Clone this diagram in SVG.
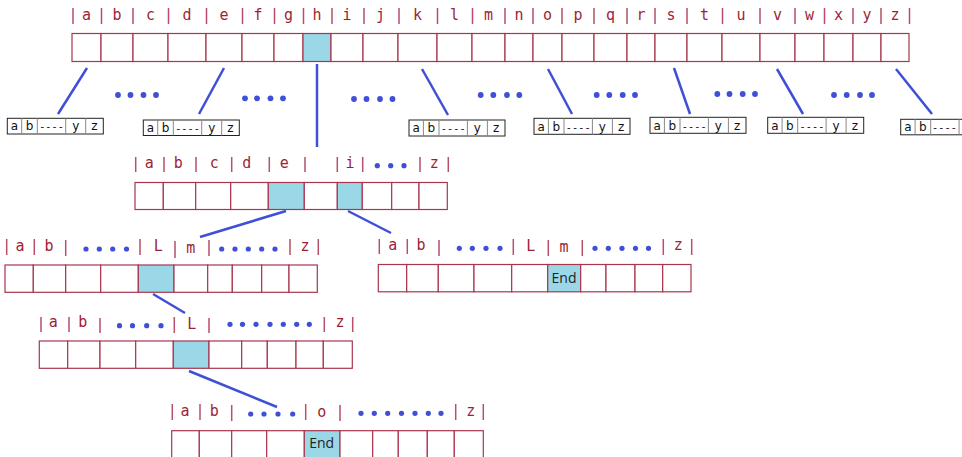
<svg xmlns="http://www.w3.org/2000/svg" width="962" height="457" viewBox="0 0 962 457">
<style>
.c{fill:#fff;stroke:#a8364e;stroke-width:1.2}
.f{fill:#9ad8e8;stroke:#a8364e;stroke-width:1.2}
.bar{stroke:#b8506a;stroke-width:1.5}
.l{font-family:"DejaVu Sans Mono","Liberation Mono",monospace;font-size:15px;fill:#9e1f36;text-anchor:middle}
.d{fill:#3f4fd6}
.cn{stroke:#3f4fd6;stroke-width:2.5;fill:none}
.so{fill:#fff;stroke:#222;stroke-width:1}
.sd{stroke:#888;stroke-width:1}
.st{font-family:"DejaVu Sans","Liberation Sans",sans-serif;font-size:12px;fill:#111;text-anchor:middle}
.dash{font-size:10px;letter-spacing:2.6px}
.end{font-family:"Open Sans","Noto Sans",sans-serif;font-size:14px;fill:#222;text-anchor:middle}
</style>
<rect width="962" height="457" fill="#fff"/>

<g id="root">
<g>
<rect class="c" x="72" y="33.5" width="29" height="28"/><rect class="c" x="101" y="33.5" width="32" height="28"/><rect class="c" x="133" y="33.5" width="35" height="28"/><rect class="c" x="168" y="33.5" width="38" height="28"/><rect class="c" x="206" y="33.5" width="36" height="28"/><rect class="c" x="242" y="33.5" width="32" height="28"/><rect class="c" x="274" y="33.5" width="29" height="28"/><rect class="f" x="303" y="33.5" width="28" height="28"/><rect class="c" x="331" y="33.5" width="32" height="28"/><rect class="c" x="363" y="33.5" width="35" height="28"/><rect class="c" x="398" y="33.5" width="39" height="28"/><rect class="c" x="437" y="33.5" width="35" height="28"/><rect class="c" x="472" y="33.5" width="33" height="28"/><rect class="c" x="505" y="33.5" width="28" height="28"/><rect class="c" x="533" y="33.5" width="29" height="28"/><rect class="c" x="562" y="33.5" width="32" height="28"/><rect class="c" x="594" y="33.5" width="33" height="28"/><rect class="c" x="627" y="33.5" width="28" height="28"/><rect class="c" x="655" y="33.5" width="32" height="28"/><rect class="c" x="687" y="33.5" width="35" height="28"/><rect class="c" x="722" y="33.5" width="38" height="28"/><rect class="c" x="760" y="33.5" width="35" height="28"/><rect class="c" x="795" y="33.5" width="29" height="28"/><rect class="c" x="824" y="33.5" width="29" height="28"/><rect class="c" x="853" y="33.5" width="28" height="28"/><rect class="c" x="881" y="33.5" width="28" height="28"/>
</g>
<path class="bar" d="M73 8V24M101.5 8V24M133 8V24M168.5 8V24M206.5 8V24M242.5 8V24M274.5 8V24M303.5 8V24M332 8V24M364 8V24M399 8V24M437.5 8V24M472.5 8V24M505 8V24M533 8V24M562 8V24M594 8V24M627 8V24M655 8V24M687 8V24M722.5 8V24M760 8V24M795 8V24M824.5 8V24M853 8V24M881 8V24M909.5 8V24"/>
<text class="l" y="20"><tspan x="86.5">a</tspan><tspan x="117">b</tspan><tspan x="150.5">c</tspan><tspan x="187">d</tspan><tspan x="224">e</tspan><tspan x="258">f</tspan><tspan x="288.5">g</tspan><tspan x="317">h</tspan><tspan x="347">i</tspan><tspan x="380.5">j</tspan><tspan x="417.5">k</tspan><tspan x="454.5">l</tspan><tspan x="488.5">m</tspan><tspan x="519">n</tspan><tspan x="547.5">o</tspan><tspan x="578">p</tspan><tspan x="610.5">q</tspan><tspan x="641">r</tspan><tspan x="671">s</tspan><tspan x="704.5">t</tspan><tspan x="741">u</tspan><tspan x="777.5">v</tspan><tspan x="809.5">w</tspan><tspan x="838.5">x</tspan><tspan x="867">y</tspan><tspan x="895">z</tspan></text>
</g>

<g id="small1" transform="translate(7.3,118.3)">
<rect class="so" x="0" y="0" width="96" height="15.7"/>
<path class="sd" d="M14.4 0V15.7M30 0V15.7M58.4 0V15.7M78.4 0V15.7"/>
<text class="st" y="12"><tspan x="7.2">a</tspan><tspan x="22.2">b</tspan><tspan class="dash" x="45.5">----</tspan><tspan x="68.4">y</tspan><tspan x="87.2">z</tspan></text>
</g>
<g id="small2" transform="translate(143.3,120)">
<rect class="so" x="0" y="0" width="96" height="15.5"/>
<path class="sd" d="M14.4 0V15.5M30 0V15.5M58.4 0V15.5M78.4 0V15.5"/>
<text class="st" y="12"><tspan x="7.2">a</tspan><tspan x="22.2">b</tspan><tspan class="dash" x="45.5">----</tspan><tspan x="68.4">y</tspan><tspan x="87.2">z</tspan></text>
</g>
<g id="small3" transform="translate(409,120)">
<rect class="so" x="0" y="0" width="96" height="16"/>
<path class="sd" d="M14.4 0V16M30 0V16M58.4 0V16M78.4 0V16"/>
<text class="st" y="12.3"><tspan x="7.2">a</tspan><tspan x="22.2">b</tspan><tspan class="dash" x="45.5">----</tspan><tspan x="68.4">y</tspan><tspan x="87.2">z</tspan></text>
</g>
<g id="small4" transform="translate(534,118.3)">
<rect class="so" x="0" y="0" width="96" height="16"/>
<path class="sd" d="M14.4 0V16M30 0V16M58.4 0V16M78.4 0V16"/>
<text class="st" y="12.3"><tspan x="7.2">a</tspan><tspan x="22.2">b</tspan><tspan class="dash" x="45.5">----</tspan><tspan x="68.4">y</tspan><tspan x="87.2">z</tspan></text>
</g>
<g id="small5" transform="translate(650,117.3)">
<rect class="so" x="0" y="0" width="96" height="16"/>
<path class="sd" d="M14.4 0V16M30 0V16M58.4 0V16M78.4 0V16"/>
<text class="st" y="12.3"><tspan x="7.2">a</tspan><tspan x="22.2">b</tspan><tspan class="dash" x="45.5">----</tspan><tspan x="68.4">y</tspan><tspan x="87.2">z</tspan></text>
</g>
<g id="small6" transform="translate(767.7,117.3)">
<rect class="so" x="0" y="0" width="96" height="16"/>
<path class="sd" d="M14.4 0V16M30 0V16M58.4 0V16M78.4 0V16"/>
<text class="st" y="12.3"><tspan x="7.2">a</tspan><tspan x="22.2">b</tspan><tspan class="dash" x="45.5">----</tspan><tspan x="68.4">y</tspan><tspan x="87.2">z</tspan></text>
</g>
<g id="small7" transform="translate(900.7,119.3)">
<rect class="so" x="0" y="0" width="96" height="15.5"/>
<path class="sd" d="M14.4 0V15.5M30 0V15.5M58.4 0V15.5M78.4 0V15.5"/>
<text class="st" y="12"><tspan x="7.2">a</tspan><tspan x="22.2">b</tspan><tspan class="dash" x="45">----</tspan></text>
</g>

<g id="ellipses">
<g class="d"><circle cx="118" cy="95" r="2.9"/><circle cx="130.5" cy="95" r="2.9"/><circle cx="143.5" cy="95" r="2.9"/><circle cx="156" cy="95" r="2.9"/></g>
<g class="d"><circle cx="245" cy="98.3" r="2.9"/><circle cx="257" cy="98.3" r="2.9"/><circle cx="270.5" cy="98.3" r="2.9"/><circle cx="283" cy="98.3" r="2.9"/></g>
<g class="d"><circle cx="354" cy="99" r="2.9"/><circle cx="366.5" cy="99" r="2.9"/><circle cx="380" cy="99" r="2.9"/><circle cx="392.5" cy="99" r="2.9"/></g>
<g class="d"><circle cx="480.7" cy="95" r="2.9"/><circle cx="493.3" cy="95" r="2.9"/><circle cx="507" cy="95" r="2.9"/><circle cx="519.3" cy="95" r="2.9"/></g>
<g class="d"><circle cx="596.7" cy="95" r="2.9"/><circle cx="609.3" cy="95" r="2.9"/><circle cx="622.7" cy="95" r="2.9"/><circle cx="635" cy="95" r="2.9"/></g>
<g class="d"><circle cx="717.3" cy="94" r="2.9"/><circle cx="729.5" cy="94" r="2.9"/><circle cx="742.7" cy="94" r="2.9"/><circle cx="755" cy="94" r="2.9"/></g>
<g class="d"><circle cx="834" cy="95" r="2.9"/><circle cx="846.7" cy="95" r="2.9"/><circle cx="860" cy="95" r="2.9"/><circle cx="872" cy="95" r="2.9"/></g>
</g>

<g id="node_h">
<rect class="c" x="135" y="182.5" width="28.3" height="27"/><rect class="c" x="163.3" y="182.5" width="32.4" height="27"/><rect class="c" x="195.7" y="182.5" width="35" height="27"/><rect class="c" x="230.7" y="182.5" width="37.6" height="27"/><rect class="f" x="268.3" y="182.5" width="36" height="27"/><rect class="c" x="304.3" y="182.5" width="33" height="27"/><rect class="f" x="337.3" y="182.5" width="25" height="27"/><rect class="c" x="362.3" y="182.5" width="29.4" height="27"/><rect class="c" x="391.7" y="182.5" width="27.3" height="27"/><rect class="c" x="419" y="182.5" width="28.3" height="27"/>
<path class="bar" d="M135.7 157V172M164 157V172M196 157V172M231.7 157V172M269.3 157V172M305 157V172M337.3 157V172M362.7 157V172M420 157V172M448.3 157V172"/>
<text class="l" y="168"><tspan x="149.3">a</tspan><tspan x="178.3">b</tspan><tspan x="214.3">c</tspan><tspan x="246.7">d</tspan><tspan x="284.3">e</tspan><tspan x="350">i</tspan><tspan x="434.3">z</tspan></text>
<g class="d"><circle cx="377.3" cy="165.7" r="2.6"/><circle cx="390.7" cy="165.7" r="2.6"/><circle cx="404" cy="165.7" r="2.6"/></g>
</g>

<g id="node_he">
<rect class="c" x="5" y="265" width="28.3" height="27.3"/><rect class="c" x="33.3" y="265" width="32.4" height="27.3"/><rect class="c" x="65.7" y="265" width="35" height="27.3"/><rect class="c" x="100.7" y="265" width="37.6" height="27.3"/><rect class="f" x="138.3" y="265" width="35.7" height="27.3"/><rect class="c" x="174" y="265" width="33.7" height="27.3"/><rect class="c" x="207.7" y="265" width="24.6" height="27.3"/><rect class="c" x="232.3" y="265" width="29.4" height="27.3"/><rect class="c" x="261.7" y="265" width="27.3" height="27.3"/><rect class="c" x="289" y="265" width="28.3" height="27.3"/>
<path class="bar" d="M6.7 239V255M34.3 239V255M65.7 240V256M140 239V255M175 241V258M209 240V256M290 239V255M318.3 239V255"/>
<text class="l" y="251"><tspan x="20">a</tspan><tspan x="49">b</tspan><tspan x="158.3">L</tspan><tspan x="190.7" dy="2">m</tspan><tspan x="305" dy="-2">z</tspan></text>
<g class="d"><circle cx="86" cy="249" r="2.6"/><circle cx="99.3" cy="249" r="2.6"/><circle cx="112.7" cy="249" r="2.6"/><circle cx="126.5" cy="249" r="2.6"/><circle cx="221.7" cy="249" r="2.6"/><circle cx="235" cy="249" r="2.6"/><circle cx="248.3" cy="249" r="2.6"/><circle cx="261.7" cy="249" r="2.6"/><circle cx="275" cy="249" r="2.6"/></g>
</g>

<g id="node_hi">
<rect class="c" x="378.3" y="264.5" width="28.4" height="27.3"/><rect class="c" x="406.7" y="264.5" width="31.6" height="27.3"/><rect class="c" x="438.3" y="264.5" width="35.7" height="27.3"/><rect class="c" x="474" y="264.5" width="37.7" height="27.3"/><rect class="c" x="511.7" y="264.5" width="36" height="27.3"/><rect class="f" x="547.7" y="264.5" width="33" height="27.3"/><rect class="c" x="580.7" y="264.5" width="25.3" height="27.3"/><rect class="c" x="606" y="264.5" width="29" height="27.3"/><rect class="c" x="635" y="264.5" width="27.7" height="27.3"/><rect class="c" x="662.7" y="264.5" width="28.3" height="27.3"/>
<path class="bar" d="M379.3 239V254M407.3 239V254M439 240V256M513.3 239V255M548.3 240V256M582.3 240V256M663.3 239V255M691.7 239V255"/>
<text class="l" y="250"><tspan x="392.7">a</tspan><tspan x="421">b</tspan><tspan x="530.7" dy="1">L</tspan><tspan x="564" dy="1">m</tspan><tspan x="678.3" dy="-2">z</tspan></text>
<g class="d"><circle cx="459.3" cy="248.3" r="2.6"/><circle cx="472.3" cy="248.3" r="2.6"/><circle cx="486" cy="248.3" r="2.6"/><circle cx="500" cy="248.3" r="2.6"/><circle cx="595" cy="248.3" r="2.6"/><circle cx="608.3" cy="248.3" r="2.6"/><circle cx="622" cy="248.3" r="2.6"/><circle cx="635.5" cy="248.3" r="2.6"/><circle cx="648.5" cy="248.3" r="2.6"/></g>
<text class="end" x="564" y="282.5">End</text>
</g>

<g id="node_hel">
<rect class="c" x="39.3" y="341" width="28.4" height="27.3"/><rect class="c" x="67.7" y="341" width="32.3" height="27.3"/><rect class="c" x="100" y="341" width="35.7" height="27.3"/><rect class="c" x="135.7" y="341" width="37.6" height="27.3"/><rect class="f" x="173.3" y="341" width="35.7" height="27.3"/><rect class="c" x="209" y="341" width="32.7" height="27.3"/><rect class="c" x="241.7" y="341" width="25.6" height="27.3"/><rect class="c" x="267.3" y="341" width="28.7" height="27.3"/><rect class="c" x="296" y="341" width="27.3" height="27.3"/><rect class="c" x="323.3" y="341" width="29" height="27.3"/>
<path class="bar" d="M41 317V332M69 317V332M100 318V333M174.3 317V333M209 318V333M324.3 317V332M352.7 317V332"/>
<text class="l" y="327"><tspan x="53.3">a</tspan><tspan x="82.7">b</tspan><tspan x="191.7" dy="2">L</tspan><tspan x="340" dy="-2">z</tspan></text>
<g class="d"><circle cx="119.5" cy="325.7" r="2.6"/><circle cx="132.5" cy="325.7" r="2.6"/><circle cx="146.7" cy="325.7" r="2.6"/><circle cx="161" cy="325.7" r="2.6"/><circle cx="230" cy="324.3" r="2.6"/><circle cx="242.5" cy="324.3" r="2.6"/><circle cx="256" cy="324.3" r="2.6"/><circle cx="270" cy="324.3" r="2.6"/><circle cx="283.3" cy="324.3" r="2.6"/><circle cx="296.7" cy="324.3" r="2.6"/><circle cx="309.3" cy="324.3" r="2.6"/></g>
</g>

<g id="node_hell">
<rect class="c" x="171.7" y="430.7" width="27.6" height="27.3"/><rect class="c" x="199.3" y="430.7" width="32.4" height="27.3"/><rect class="c" x="231.7" y="430.7" width="35" height="27.3"/><rect class="c" x="266.7" y="430.7" width="37.6" height="27.3"/><rect class="f" x="304.3" y="430.7" width="35.7" height="27.3"/><rect class="c" x="340" y="430.7" width="32.7" height="27.3"/><rect class="c" x="372.7" y="430.7" width="25.6" height="27.3"/><rect class="c" x="398.3" y="430.7" width="29" height="27.3"/><rect class="c" x="427.3" y="430.7" width="27" height="27.3"/><rect class="c" x="454.3" y="430.7" width="29" height="27.3"/>
<path class="bar" d="M172.3 404V420M200 404V420M231.7 405V421M305.7 404V420M340 405V421M455.7 404V420M483.3 404V420"/>
<text class="l" y="416"><tspan x="185">a</tspan><tspan x="214.3">b</tspan><tspan x="321.7" dy="1">o</tspan><tspan x="470.7" dy="-1">z</tspan></text>
<g class="d"><circle cx="250.7" cy="414" r="2.6"/><circle cx="264" cy="414" r="2.6"/><circle cx="278" cy="414" r="2.6"/><circle cx="292.7" cy="414" r="2.6"/><circle cx="361" cy="413.3" r="2.6"/><circle cx="374.3" cy="413.3" r="2.6"/><circle cx="387.7" cy="413.3" r="2.6"/><circle cx="401.5" cy="413.3" r="2.6"/><circle cx="415" cy="413.3" r="2.6"/><circle cx="428.3" cy="413.3" r="2.6"/><circle cx="441" cy="413.3" r="2.6"/></g>
<text class="end" x="321.7" y="447.5">End</text>
</g>

<g id="connectors" class="cn">
<line x1="87" y1="68" x2="58" y2="114"/>
<line x1="224" y1="68" x2="199" y2="114"/>
<line x1="317" y1="64" x2="317" y2="147"/>
<line x1="422" y1="69" x2="448" y2="115"/>
<line x1="548" y1="69" x2="572" y2="114"/>
<line x1="674" y1="68" x2="690" y2="114"/>
<line x1="777" y1="69" x2="803" y2="114"/>
<line x1="896" y1="69" x2="932" y2="114"/>
<line x1="286" y1="211" x2="200" y2="237"/>
<line x1="348" y1="211" x2="391" y2="233"/>
<line x1="153" y1="294" x2="185" y2="313"/>
<line x1="189" y1="371" x2="277" y2="407"/>
</g>
</svg>
